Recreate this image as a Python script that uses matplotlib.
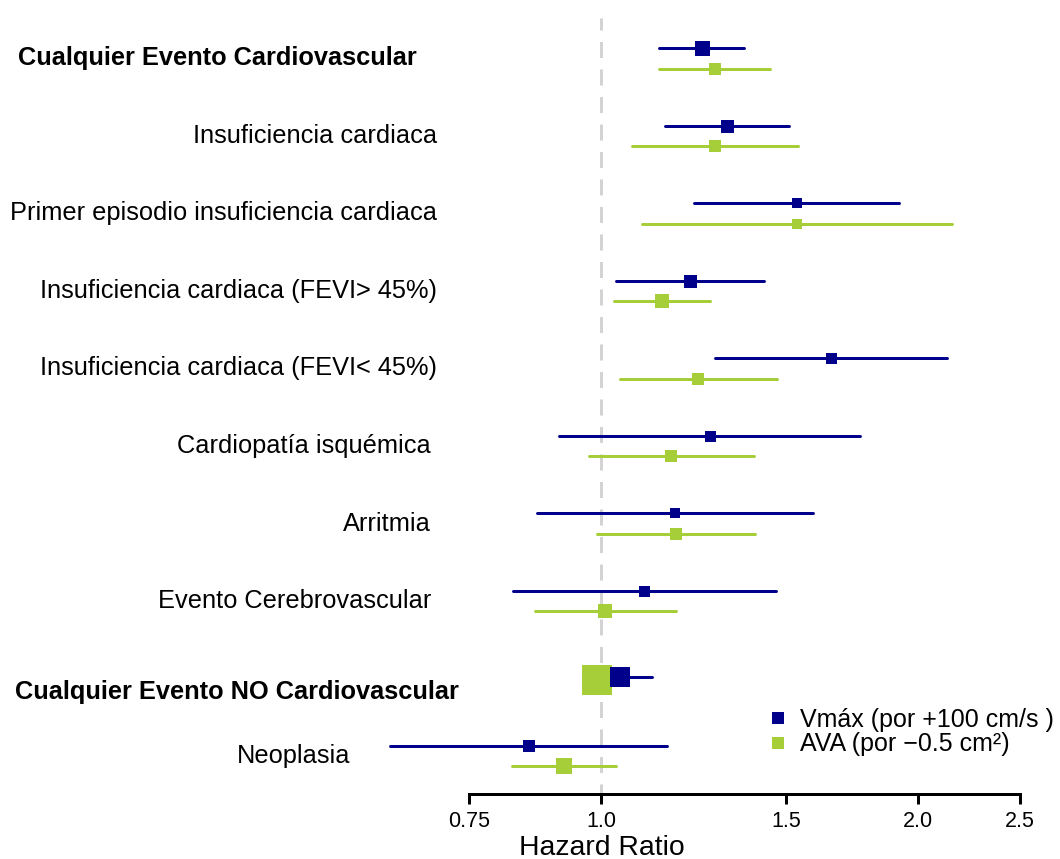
import numpy as np
import matplotlib
matplotlib.use("Agg")
import matplotlib.pyplot as plt
from matplotlib.lines import Line2D
from matplotlib.transforms import blended_transform_factory
from matplotlib.ticker import FixedLocator, NullLocator

plt.rcParams['font.family'] = ['Liberation Sans', 'DejaVu Sans']
plt.rcParams['lines.scale_dashes'] = False

# Hazard ratios e IC 95% por desenlace
categorias = [
    "Cualquier Evento Cardiovascular",
    "Insuficiencia cardiaca",
    "Primer episodio insuficiencia cardiaca",
    "Insuficiencia cardiaca (FEVI> 45%)",
    "Insuficiencia cardiaca (FEVI< 45%)",
    "Cardiopatía isquémica",
    "Arritmia",
    "Evento Cerebrovascular",
    "Cualquier Evento NO Cardiovascular",
    "Neoplasia",
]
negrita = [True, False, False, False, False, False, False, False, True, False]

hr_vmax = [1.246, 1.316, 1.534, 1.214, 1.652, 1.268, 1.175, 1.099, 1.043, 0.854]
li_vmax = [1.136, 1.150, 1.226, 1.033, 1.283, 0.912, 0.869, 0.826, 0.976, 0.631]
ls_vmax = [1.367, 1.507, 1.919, 1.428, 2.130, 1.763, 1.590, 1.466, 1.117, 1.154]
peso_vmax = [15.0, 13.0, 10.5, 13.0, 11.0, 11.0, 10.7, 11.0, 19.7, 11.7]

hr_ava = [1.283, 1.283, 1.535, 1.142, 1.236, 1.165, 1.178, 1.009, 0.992, 0.922]
li_ava = [1.136, 1.071, 1.093, 1.030, 1.043, 0.975, 0.992, 0.866, 0.975, 0.823]
ls_ava = [1.447, 1.538, 2.155, 1.268, 1.468, 1.396, 1.399, 1.177, 1.015, 1.033]
peso_ava = [12.7, 12.3, 10.3, 14.7, 11.7, 11.7, 12.0, 13.3, 29.7, 15.3]

ticks_hr = [0.75, 1.0, 1.5, 2.0, 2.5]
tick_labels = ["0.75", "1.0", "1.5", "2.0", "2.5"]

AZUL = "#00008b"
VERDE = "#a6ce39"
W, H = 1060, 859
PX = 72 / 100  # puntos por pixel

fig = plt.figure(figsize=(W / 100, H / 100), dpi=100)
ax = fig.add_axes([380 / W, (H - 794) / H, 665 / W, 779 / H])
ax.set_xscale("log")
ax.set_xlim(0.617, 2.639)
ax.set_ylim(9.49, -0.561)

filas = np.arange(len(categorias))
# separación vertical entre las dos series en cada fila
sep = np.array([0.13] * len(categorias))
sep[8] = 0.02

# línea de referencia en HR = 1
ax.plot([1, 1], [-0.52, 9.49], color="#d3d3d3", lw=3 * PX,
        linestyle=(4 * PX, (16 * PX, 11.5 * PX)), zorder=1)

series = [
    (hr_ava, li_ava, ls_ava, peso_ava, VERDE, +1),
    (hr_vmax, li_vmax, ls_vmax, peso_vmax, AZUL, -1),
]
for hr, li, ls, peso, color, signo in series:
    for i in filas:
        y = i + signo * sep[i]
        ax.plot([li[i], ls[i]], [y, y], color=color, lw=3 * PX,
                solid_capstyle="round", zorder=2)
        ax.plot(hr[i], y, marker="s", color=color, markersize=peso[i] * PX,
                markeredgewidth=0, linestyle="none", zorder=3)

# eje x acotado a los ticks
for s in ["top", "right", "left"]:
    ax.spines[s].set_visible(False)
ax.spines["bottom"].set_bounds(0.75, 2.5)
ax.spines["bottom"].set_linewidth(3 * PX)
ax.xaxis.set_major_locator(FixedLocator(ticks_hr))
ax.xaxis.set_minor_locator(NullLocator())
ax.set_xticklabels(tick_labels)
ax.tick_params(axis="x", length=10 * PX, width=3 * PX, labelsize=15.5, pad=5,
               colors="black")
ax.set_yticks([])

# etiquetas de cada desenlace
tr = blended_transform_factory(fig.transFigure, ax.transData)
borde = [18, 437, 437, 437, 437, 431, 431, 431, 15, 350]
ajuste_y = [0, 0, 0, 0, 0, 0, 0, 0, 0.18, 0]
for i, texto in enumerate(categorias):
    if negrita[i]:
        ax.text(borde[i] / W, i + ajuste_y[i], texto, transform=tr,
                ha="left", va="center", fontsize=18.3, fontweight="bold")
    else:
        ax.text(borde[i] / W, i + ajuste_y[i], texto, transform=tr,
                ha="right", va="center", fontsize=18.3)

fig.text(602 / W, 1 - 848 / H, "Hazard Ratio", ha="center", va="center",
         fontsize=20.4)

handles = [
    Line2D([], [], marker="s", color=AZUL, linestyle="none",
           markersize=12.5 * PX, markeredgewidth=0),
    Line2D([], [], marker="s", color=VERDE, linestyle="none",
           markersize=12.5 * PX, markeredgewidth=0),
]
fig.legend(handles, ["Vmáx (por +100 cm/s )", "AVA (por −0.5 cm²)"],
           loc="upper left", bbox_to_anchor=(765 / W, 1 - 708 / H),
           frameon=False, fontsize=18, borderpad=0, borderaxespad=0,
           handlelength=1.0, handletextpad=0.4, labelspacing=0.02)

fig.savefig("out.png", dpi=100)
